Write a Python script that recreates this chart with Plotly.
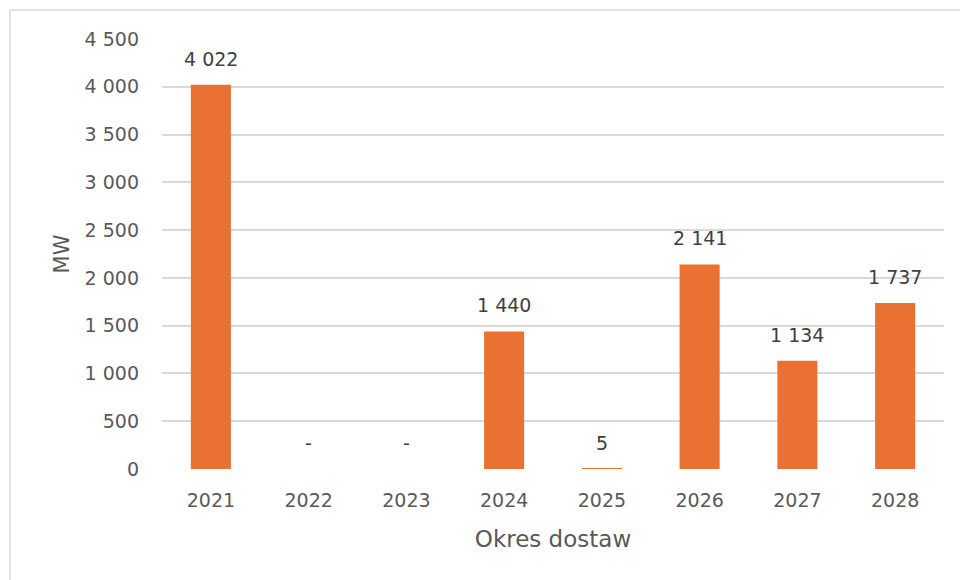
import plotly.graph_objects as go

years = ["2021", "2022", "2023", "2024", "2025", "2026", "2027", "2028"]
values = [4022, 0, 0, 1440, 5, 2141, 1134, 1737]
y_ticks = [0, 500, 1000, 1500, 2000, 2500, 3000, 3500, 4000, 4500]

def fmt(v):
    return "-" if v == 0 else f"{v:,}".replace(",", " ")

labels = [fmt(v) for v in values]

FONT = "DejaVu Sans, Arial, sans-serif"

fig = go.Figure()
fig.add_trace(go.Bar(
    x=years, y=values, marker=dict(color="#E97132", line=dict(width=0)),
    hoverinfo="x+y",
))

# data labels (category axis annotations use category index)
for i, (v, t) in enumerate(zip(values, labels)):
    fig.add_annotation(x=i, y=v, text=t, showarrow=False, yanchor="middle",
                       yshift=26, font=dict(size=19, color="#404040", family=FONT))

# outer chart border
fig.add_shape(type="rect", xref="paper", yref="paper",
              x0=(10 - 162) / 782, x1=(975 - 162) / 782,
              y0=(469 - 595) / 430, y1=(469 - 10) / 430,
              line=dict(color="#D9D9D9", width=1.5), fillcolor="rgba(0,0,0,0)",
              layer="below")

fig.update_layout(
    width=960, height=580,
    margin=dict(l=162, r=16, t=39, b=111),
    paper_bgcolor="white", plot_bgcolor="white",
    separators=". ",
    bargap=0.59,
    showlegend=False,
    font=dict(family=FONT, color="#595959", size=19),
    xaxis=dict(
        type="category", range=[-0.5, len(years) - 0.5],
        showgrid=False, showline=False, zeroline=False,
        ticks="", ticklabelstandoff=18,
        tickfont=dict(size=19, color="#595959"),
        title=dict(text="Okres dostaw", font=dict(size=23, color="#595959"), standoff=20),
    ),
    yaxis=dict(
        range=[0, 4500], tickvals=y_ticks, tickformat=",d",
        showgrid=True, gridcolor="#D9D9D9", gridwidth=1.5,
        zeroline=False, showline=False, ticks="", ticklabelstandoff=22,
        tickfont=dict(size=19, color="#595959"),
        title=dict(text="MW", font=dict(size=21, color="#595959"), standoff=9),
    ),
)

fig.write_html("out.html")
